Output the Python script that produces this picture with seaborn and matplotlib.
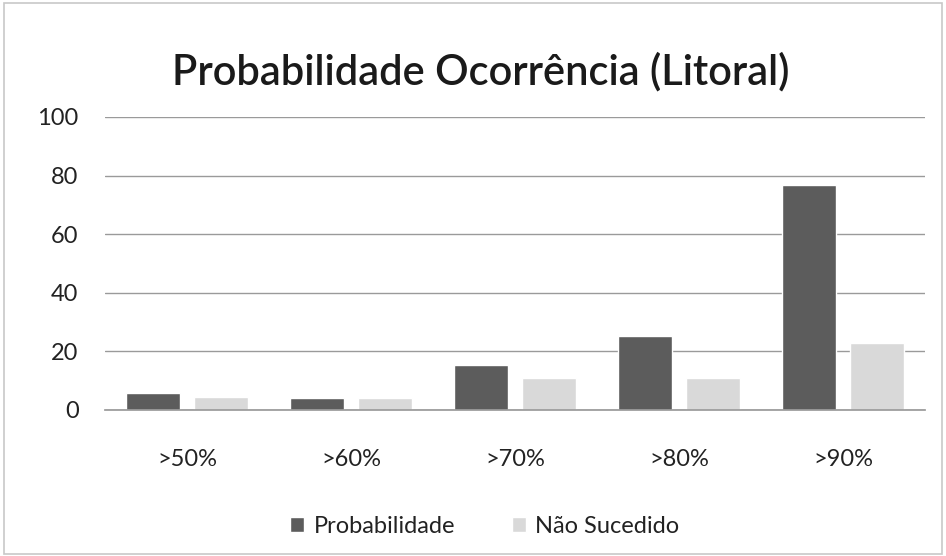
import matplotlib
matplotlib.use("Agg")
import matplotlib.pyplot as plt
import seaborn as sns
import pandas as pd
from matplotlib.patches import Rectangle

categories = [">50%", ">60%", ">70%", ">80%", ">90%"]
probabilidade = [5.8, 4.0, 15.2, 25.2, 76.8]
nao_sucedido = [4.4, 4.0, 10.8, 10.8, 22.8]
series_names = ["Probabilidade", "Não Sucedido"]
y_ticks = [0, 20, 40, 60, 80, 100]

sns.set_theme(style="white")
plt.rcParams['font.family'] = ['Lato', 'DejaVu Sans']

df = pd.DataFrame({
    "cat": categories * 2,
    "val": probabilidade + nao_sucedido,
    "serie": [series_names[0]] * len(categories) + [series_names[1]] * len(categories),
})

fig = plt.figure(figsize=(9.46, 5.56), dpi=100)
fig.patch.set_facecolor("white")
fig.add_artist(Rectangle((0.004, 0.004), 0.992, 0.99, transform=fig.transFigure,
                         fill=False, edgecolor="#c8c8c8", linewidth=1.2))
ax = fig.add_axes([0.111, 0.2626, 0.867, 0.527])

sns.barplot(data=df, x="cat", y="val", hue="serie", order=categories,
            hue_order=series_names, palette=["#5c5c5c", "#d9d9d9"],
            width=0.83, gap=0.2, ax=ax, legend=True, saturation=1)

ax.set_xlim(-0.5, 4.5)
ax.set_ylim(0, 100)
ax.set_yticks(y_ticks)
ax.yaxis.grid(True, color="#9a9a9a", linewidth=1.0)
ax.set_axisbelow(True)
for s in ["top", "right", "left"]:
    ax.spines[s].set_visible(False)
ax.spines["bottom"].set_color("#9a9a9a")
ax.set_xlabel("")
ax.set_ylabel("")
ax.tick_params(axis="y", labelsize=17, pad=19, colors="#222222", length=0)
ax.tick_params(axis="x", labelsize=17, pad=28, colors="#222222", length=0)

fig.text(0.508, 0.872, "Probabilidade Ocorrência (Litoral)", ha="center", va="center",
         fontsize=30, fontweight="semibold", color="#1a1a1a")

leg = ax.legend(loc="upper center", bbox_to_anchor=(0.463, -0.29), ncol=2,
                frameon=False, fontsize=17, handlelength=0.6, handleheight=0.6,
                columnspacing=2.4, handletextpad=0.4)
for t in leg.get_texts():
    t.set_color("#222222")

fig.savefig("out.png", dpi=100, facecolor="white")
